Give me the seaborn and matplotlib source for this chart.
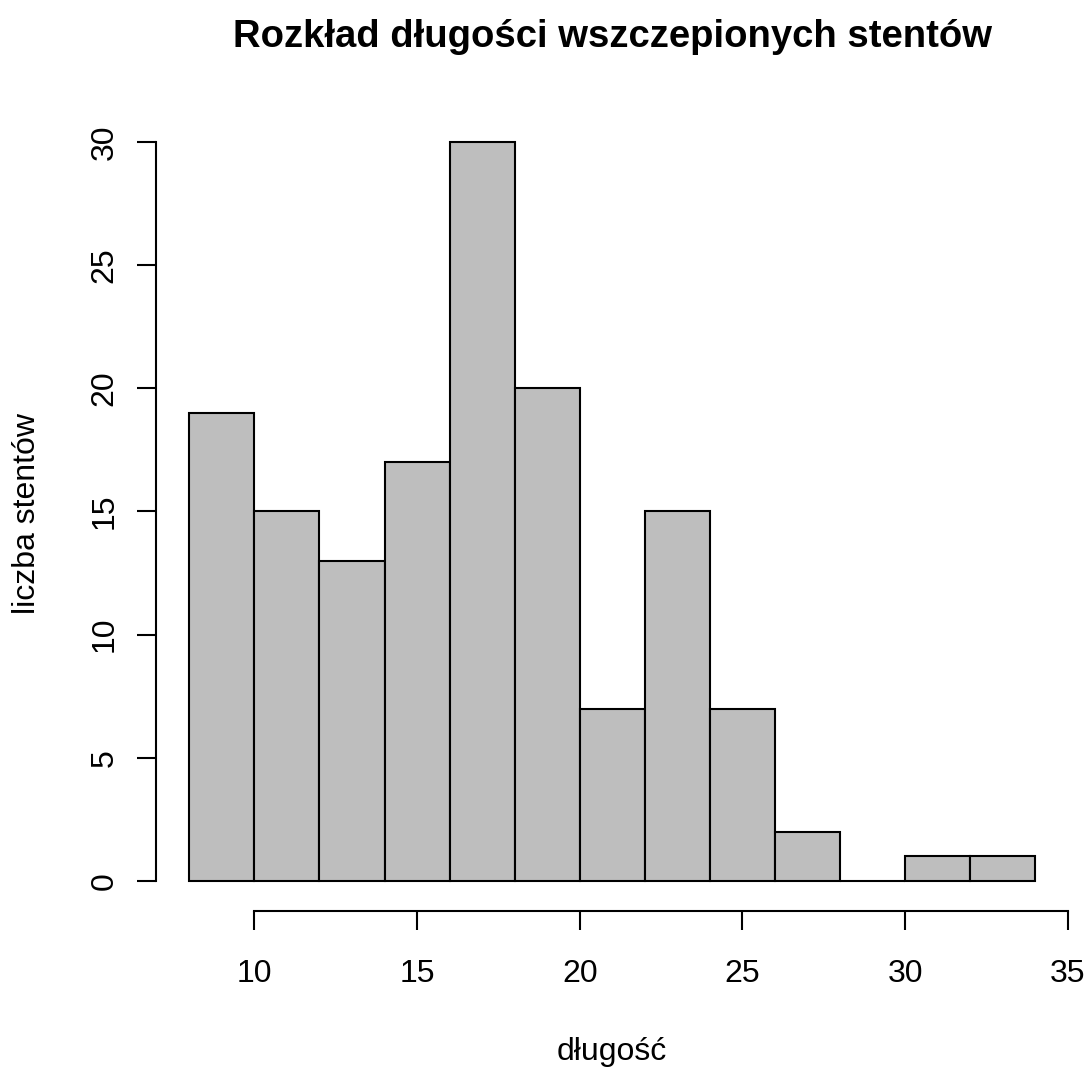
import matplotlib
matplotlib.use("Agg")
import matplotlib.pyplot as plt
import seaborn as sns
import numpy as np

bin_edges = [8, 10, 12, 14, 16, 18, 20, 22, 24, 26, 28, 30, 32, 34]
counts = [19, 15, 13, 17, 30, 20, 7, 15, 7, 2, 0, 1, 1]
x_ticks = [10, 15, 20, 25, 30, 35]
y_ticks = [0, 5, 10, 15, 20, 25, 30]
title = "Rozkład długości wszczepionych stentów"
xlabel = "długość"
ylabel = "liczba stentów"

sns.set_style("white")
plt.rcParams['font.family'] = ['Liberation Sans', 'DejaVu Sans']
plt.rcParams['text.color'] = 'black'
plt.rcParams['xtick.color'] = 'black'
plt.rcParams['ytick.color'] = 'black'
plt.rcParams['axes.labelcolor'] = 'black'

centers = [(bin_edges[i] + bin_edges[i + 1]) / 2 for i in range(len(counts))]

W, H = 1092, 1068
fig = plt.figure(figsize=(W / 100, H / 100), dpi=100)
left, right, bottom, top = 155.5, 1069.0, 910.5, 112.5
ax = fig.add_axes([left / W, 1 - bottom / H, (right - left) / W, (bottom - top) / H])

sns.histplot(x=centers, weights=counts, bins=bin_edges, ax=ax,
             color="#BEBEBE", edgecolor="black", linewidth=1.5, alpha=1.0)

ax.set_xlim(6.96, 35.04)
ax.set_ylim(-1.2, 31.2)
ax.set_xticks(x_ticks)
ax.set_yticks(y_ticks)
ax.set_xticklabels([str(t) for t in x_ticks], fontsize=23)
ax.set_yticklabels([str(t) for t in y_ticks], fontsize=23, rotation=90, va="center")
for s in ["top", "right"]:
    ax.spines[s].set_visible(False)
ax.spines["left"].set_bounds(0, 30)
ax.spines["bottom"].set_bounds(10, 35)
for s in ["left", "bottom"]:
    ax.spines[s].set_linewidth(1.5)
    ax.spines[s].set_color("black")
ax.tick_params(axis="both", direction="out", length=14, width=1.5, colors="black",
               bottom=True, left=True)
ax.tick_params(axis="x", pad=21)
ax.tick_params(axis="y", pad=12)
ax.set_xlabel("")
ax.set_ylabel("")
ax.grid(False)

cx = 0.5 * (left + right) / W
fig.text(cx, 1 - 47 / H, title, ha="center", va="baseline",
         fontsize=27.5, fontweight="bold")
fig.text(cx, 1 - 1052 / H, xlabel, ha="center", va="center", fontsize=23)
fig.text(27 / W, 1 - 0.5 * (top + bottom) / H - 0.002, ylabel, ha="center", va="center",
         fontsize=23, rotation=90)

fig.savefig("out.png", dpi=100)
